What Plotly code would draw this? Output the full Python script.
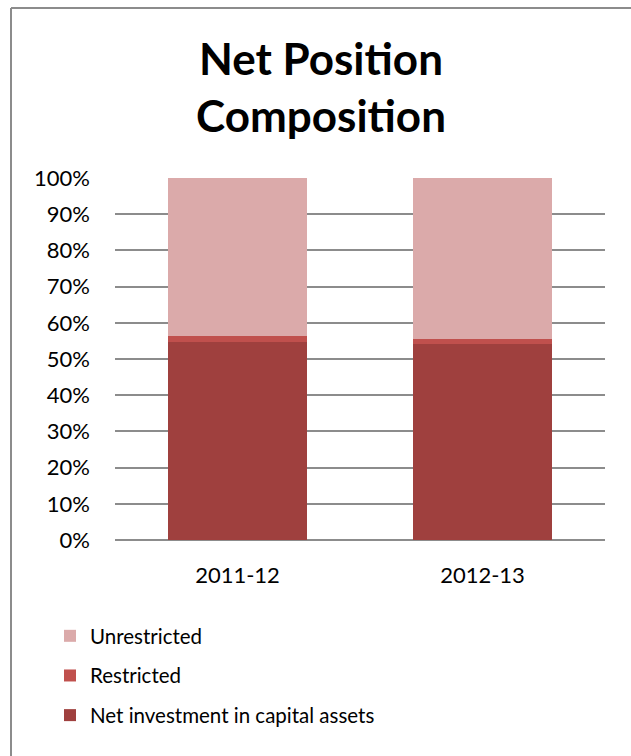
import plotly.graph_objects as go

categories = ["2011-12", "2012-13"]
net_investment = [54.7, 54.1]
restricted = [1.7, 1.3]
unrestricted = [43.6, 44.6]

series = [
    ("Net investment in capital assets", net_investment, "#9F403E", 3),
    ("Restricted", restricted, "#C0504D", 2),
    ("Unrestricted", unrestricted, "#DBAAAA", 1),
]

fig = go.Figure()
for name, vals, col, rank in series:
    fig.add_trace(go.Bar(
        name=name, x=categories, y=vals, marker_color=col,
        marker_line_width=0, legendrank=rank, legendgroup=name,
    ))

W, H = 631, 756
L, R, T, B = 115, 26, 178, 216
pw, ph = W - L - R, H - T - B

fig.update_layout(
    width=W, height=H, barmode="stack", bargap=0.43,
    margin=dict(l=L, r=R, t=T, b=B),
    paper_bgcolor="white", plot_bgcolor="white",
    font=dict(family="Lato, Open Sans, sans-serif", color="black", size=22),
    xaxis=dict(type="category", showgrid=False, tickfont=dict(size=22), ticks="",
               showline=False, ticklabelstandoff=20),
    yaxis=dict(range=[0, 100], dtick=10, ticksuffix="%", gridcolor="#8C8C8C", gridwidth=1.5,
               zeroline=True, zerolinecolor="#8C8C8C", zerolinewidth=1.5,
               tickfont=dict(size=22), ticks="", ticklabelstandoff=24),
    legend=dict(x=(50 - L) / pw, xanchor="left", y=-(616 - (T + ph)) / ph, yanchor="top",
                traceorder="grouped", tracegroupgap=10, font=dict(size=20.5),
                itemwidth=30, bgcolor="rgba(0,0,0,0)"),
    showlegend=True,
)

# title as centered annotation
fig.add_annotation(text="<b>Net Position<br>Composition</b>", xref="paper", yref="paper",
                   x=(321 - L) / pw, y=1 + (T - 87) / ph, xanchor="center", yanchor="middle",
                   showarrow=False, font=dict(size=44), align="center")

# chart border (left and top edges)
fig.add_shape(type="line", xref="paper", yref="paper",
              x0=(11 - L) / pw, x1=(11 - L) / pw, y0=-(H - T - ph) / ph - 0.1, y1=(T - 8) / ph + 1,
              line=dict(color="#8C8C8C", width=2))
fig.add_shape(type="line", xref="paper", yref="paper",
              x0=(11 - L) / pw, x1=(W + 5 - L) / pw, y0=(T - 8) / ph + 1, y1=(T - 8) / ph + 1,
              line=dict(color="#8C8C8C", width=2))

fig.write_html("out.html")
